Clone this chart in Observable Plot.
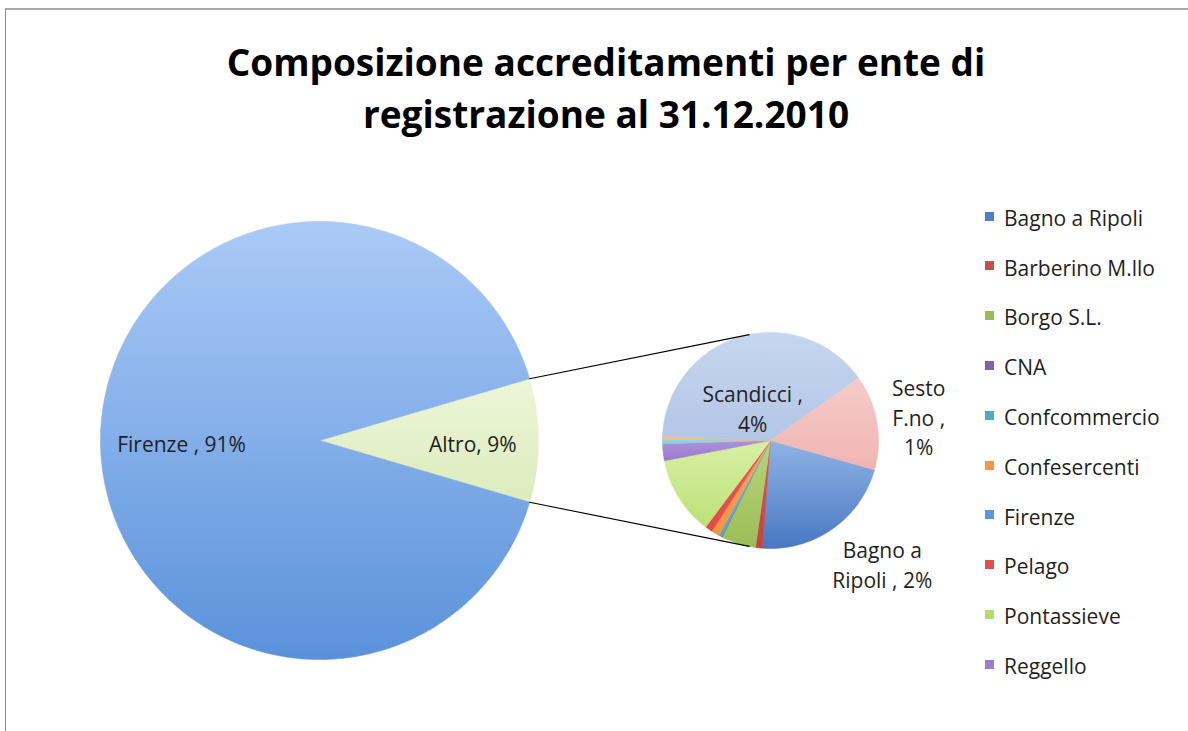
<!DOCTYPE html>
<html>
<head>
<meta charset="utf-8">
<script src="https://cdn.jsdelivr.net/npm/d3@7"></script>
<script src="https://cdn.jsdelivr.net/npm/@observablehq/plot@0.6"></script>
<style>
  html, body { margin: 0; padding: 0; background: #fff; }
  body { width: 1188px; height: 731px; overflow: hidden; position: relative; font-family: "Open Sans", sans-serif; }
  #frame { position: absolute; left: 5px; top: 8px; width: 1200px; height: 800px; border-top: 2px solid #a8a8a8; border-left: 1px solid #8c8c8c; }
  #title { position: absolute; left: 0; top: 36px; width: 1212px; text-align: center; font-weight: 700; font-size: 37px; line-height: 52px; color: #000; }
  #chart { position: absolute; left: 0; top: 145px; }
  .lg-sw { position: absolute; width: 9px; height: 9px; }
  .lg-tx { position: absolute; font-size: 21px; line-height: 40px; color: #1f1f1f; white-space: nowrap; }
</style>
</head>
<body>
<div id="frame"></div>
<div id="title">Composizione accreditamenti per ente di<br>registrazione al 31.12.2010</div>
<div id="chart"></div>
<div id="legend"></div>
<script>
// ---------------- DATA ----------------
const mainCategories = ["Firenze", "Altro"];
const mainValues = [90.9, 9.1]; // % of total

const subCategories = ["Bagno a Ripoli", "Barberino M.llo", "Borgo S.L.", "CNA", "Confcommercio",
  "Confesercenti", "Pelago", "Pontassieve", "Reggello", "Rignano S.A.", "Rufina", "Scandicci", "Sesto F.no"];
const subValues = [1.99, 0.09, 0.47, 0.01, 0.04, 0.11, 0.10, 1.07, 0.23, 0.06, 0.04, 3.60, 1.29]; // % of total

const legendCategories = ["Bagno a Ripoli", "Barberino M.llo", "Borgo S.L.", "CNA", "Confcommercio",
  "Confesercenti", "Firenze", "Pelago", "Pontassieve", "Reggello"];

// label texts ({p} = rounded percentage)
const labelTemplates = {
  "Firenze": "Firenze , {p}",
  "Altro": "Altro, {p}",
  "Scandicci": "Scandicci ,\n{p}",
  "Sesto F.no": "Sesto\nF.no ,\n{p}",
  "Bagno a Ripoli": "Bagno a\nRipoli , {p}"
};

// ---------------- STYLE ----------------
// [top, bottom] gradient colours
const sliceColors = {
  "Firenze": ["#abcaf7", "#5a92da"],
  "Altro": ["#edf6d8", "#dcebbd"],
  "Bagno a Ripoli": ["#90b3e5", "#4878c2"],
  "Barberino M.llo": ["#dc5a57", "#c4433f"],
  "Borgo S.L.": ["#b8d578", "#9bbd58"],
  "CNA": ["#9c82c6", "#8064a2"],
  "Confcommercio": ["#66bcd6", "#4babc6"],
  "Confesercenti": ["#f9a85a", "#f39340"],
  "Pelago": ["#ea5c57", "#e04a46"],
  "Pontassieve": ["#d8f0a4", "#bde078"],
  "Reggello": ["#ad92da", "#9a7acb"],
  "Rignano S.A.": ["#96d8ea", "#82cde4"],
  "Rufina": ["#fac486", "#f6b46c"],
  "Scandicci": ["#c6d6ef", "#b3c6e6"],
  "Sesto F.no": ["#f6cbc9", "#f0b4b2"]
};
const legendSwatch = {
  "Bagno a Ripoli": "#4f7fc4", "Barberino M.llo": "#c4504c", "Borgo S.L.": "#9bbb59", "CNA": "#8064a2",
  "Confcommercio": "#4bacc6", "Confesercenti": "#f79646", "Firenze": "#5b97e0", "Pelago": "#e04e4e",
  "Pontassieve": "#b5dd6a", "Reggello": "#9c7dd2"
};
const textColor = "#1f1f1f";

// ---------------- LAYOUT ----------------
const W = 1188, H = 586, TOP = 145;
const PX = 219;                 // pixels per unit (big pie radius)
const bigCenterPx = [319, 440]; // page pixels
const smallCenter = [(770 - 319) / PX, 0];
const smallR = 108 / PX;
const smallStart = 105.7;       // degrees clockwise from north
// label placement: [radius factor, angle offset (deg)]
const labelPlace = {
  "Firenze": [0.63, -0.8], "Altro": [0.70, 0.8],
  "Scandicci": [0.345, -12], "Sesto F.no": [1.39, 0.6], "Bagno a Ripoli": [1.54, -7.3]
};

// ---------------- GEOMETRY ----------------
const rad = a => a * Math.PI / 180;
function slicePoints(name, cx, cy, r, a0, a1) {
  const pts = [{name, u: cx, v: cy}];
  const n = Math.max(2, Math.ceil((a1 - a0) / 0.5));
  for (let i = 0; i <= n; i++) {
    const a = rad(a0 + (a1 - a0) * i / n);
    pts.push({name, u: cx + r * Math.sin(a), v: cy + r * Math.cos(a)});
  }
  pts.push({name, u: cx, v: cy});
  return pts;
}

const slices = [];
// main pie: "Altro" centered on east
const altroIdx = mainCategories.indexOf("Altro");
const mainTotal = d3.sum(mainValues);
const altroSpan = 360 * mainValues[altroIdx] / mainTotal;
const altroA0 = 90 - altroSpan / 2, altroA1 = 90 + altroSpan / 2;
slices.push({name: "Altro", value: mainValues[altroIdx], cx: 0, cy: 0, r: 1, a0: altroA0, a1: altroA1});
slices.push({name: "Firenze", value: mainValues[0], cx: 0, cy: 0, r: 1, a0: altroA1, a1: altroA0 + 360});
// secondary pie
const subTotal = d3.sum(subValues);
let acc = smallStart;
subCategories.forEach((name, i) => {
  const span = 360 * subValues[i] / subTotal;
  slices.push({name, value: subValues[i], cx: smallCenter[0], cy: smallCenter[1], r: smallR, a0: acc, a1: acc + span});
  acc += span;
});

// connector lines (tangents from Altro edges to secondary pie)
function tangent(P, upper) {
  const wu = P.u - smallCenter[0], wv = P.v - smallCenter[1];
  const D = Math.hypot(wu, wv);
  const phi = Math.atan2(wv, wu);
  const t = Math.acos(smallR / D);
  const a = upper ? phi - t : phi + t;
  return {u: smallCenter[0] + smallR * Math.cos(a), v: smallCenter[1] + smallR * Math.sin(a)};
}
const pUp = {u: Math.sin(rad(altroA0)), v: Math.cos(rad(altroA0))};
const pDn = {u: Math.sin(rad(altroA1)), v: Math.cos(rad(altroA1))};
const connectors = [
  {id: "up", ...pUp}, {id: "up", ...tangent(pUp, true)},
  {id: "dn", ...pDn}, {id: "dn", ...tangent(pDn, false)}
];

// labels
const labels = slices.filter(s => labelTemplates[s.name]).map(s => {
  const [rf, off] = labelPlace[s.name];
  const a = rad((s.a0 + s.a1) / 2 + off);
  return {
    u: s.cx + s.r * rf * Math.sin(a),
    v: s.cy + s.r * rf * Math.cos(a),
    text: labelTemplates[s.name].replace("{p}", Math.round(s.value / mainTotal * 100) + "%")
  };
});

// ---------------- PLOT ----------------
const xDomain = [-bigCenterPx[0] / PX, (W - bigCenterPx[0]) / PX];
const cyS = bigCenterPx[1] - TOP;
const yDomain = [(cyS - H) / PX, cyS / PX];

const sliceMarks = slices.map((s, i) =>
  Plot.line(slicePoints(s.name, s.cx, s.cy, s.r, s.a0, s.a1), {
    x: "u", y: "v", curve: "linear",
    fill: `url(#grad${i})`, stroke: `url(#grad${i})`, strokeWidth: 0.6
  })
);

const svg = Plot.plot({
  width: W, height: H,
  margin: 0, marginTop: 0, marginRight: 0, marginBottom: 0, marginLeft: 0,
  x: {domain: xDomain, axis: null},
  y: {domain: yDomain, axis: null},
  style: {background: "transparent", overflow: "visible"},
  marks: [
    ...sliceMarks,
    Plot.line(connectors, {x: "u", y: "v", z: "id", stroke: "#000", strokeWidth: 1.1}),
    Plot.text(labels, {
      x: "u", y: "v", text: "text", fontSize: 21, fontFamily: "Open Sans",
      lineHeight: 1.4, fill: textColor, textAnchor: "middle", lineAnchor: "middle"
    })
  ]
});

const defs = d3.select(svg).insert("defs", ":first-child");
slices.forEach((s, i) => {
  const [c0, c1] = sliceColors[s.name];
  const g = defs.append("linearGradient").attr("id", `grad${i}`)
    .attr("x1", 0).attr("y1", 0).attr("x2", 0).attr("y2", 1);
  g.append("stop").attr("offset", "0%").attr("stop-color", c0);
  g.append("stop").attr("offset", "100%").attr("stop-color", c1);
});
document.getElementById("chart").appendChild(svg);

// ---------------- LEGEND ----------------
const legend = d3.select("#legend");
legendCategories.forEach((name, i) => {
  const base = 226 + i * 49.8;
  legend.append("div").attr("class", "lg-sw")
    .style("left", "985px").style("top", (base - 14.5) + "px")
    .style("background", legendSwatch[name]);
  legend.append("div").attr("class", "lg-tx")
    .style("left", "1004px").style("top", (base - 28.15) + "px")
    .text(name);
});
</script>
</body>
</html>
